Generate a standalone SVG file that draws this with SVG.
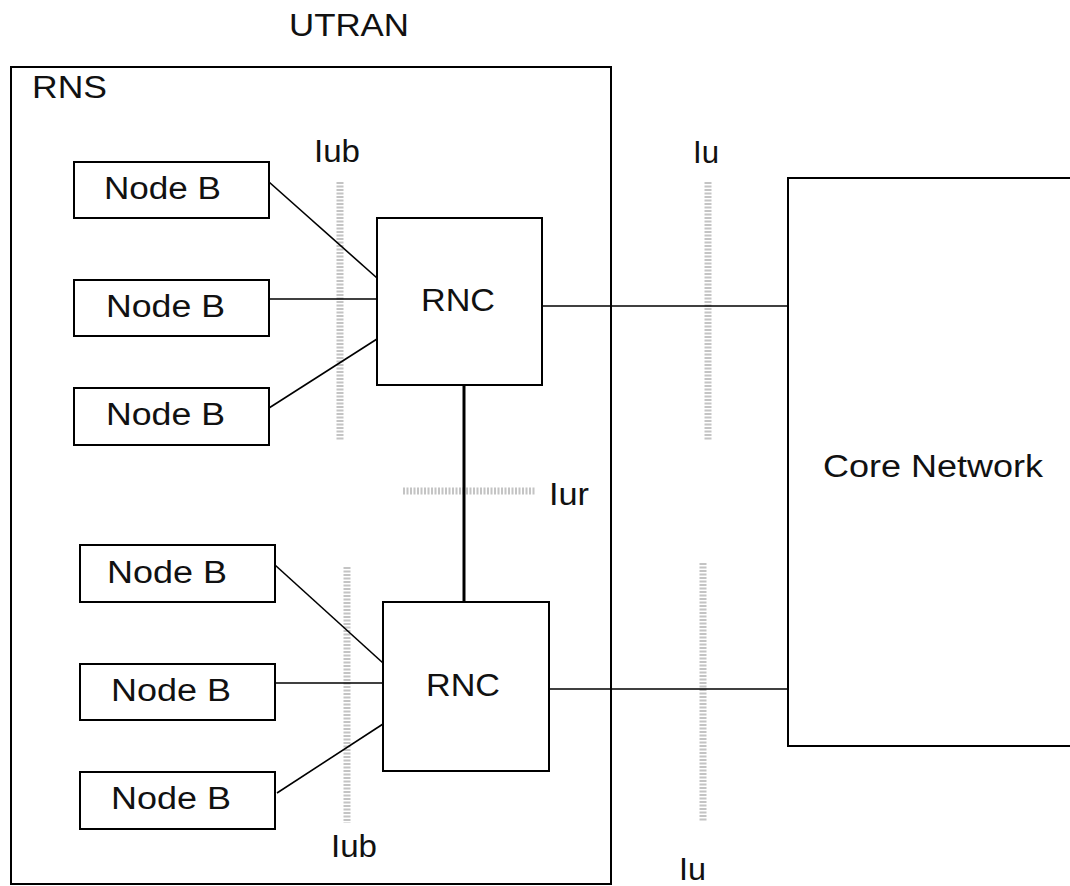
<svg xmlns="http://www.w3.org/2000/svg" width="1070" height="886" viewBox="0 0 1070 886">
<style>
.box{fill:#fff;stroke:#000;stroke-width:2}
.t{font-family:"Liberation Sans",Arial,sans-serif;font-size:31px;fill:#111}
.ln{stroke:#000;stroke-width:1.6;fill:none}
.bar{stroke:#c4c4c4;stroke-width:7;stroke-dasharray:2 1.5;fill:none}
</style>
<rect width="1070" height="886" fill="#fff"/>
<text class="t" x="289" y="36" textLength="120" lengthAdjust="spacingAndGlyphs">UTRAN</text>
<g id="rns">
<rect class="box" x="11" y="67" width="600" height="817"/>
<text class="t" x="32" y="98" textLength="75" lengthAdjust="spacingAndGlyphs">RNS</text>
</g>
<g id="core">
<rect class="box" x="788" y="178" width="300" height="568"/>
<text class="t" x="823" y="477" textLength="220" lengthAdjust="spacingAndGlyphs">Core Network</text>
</g>
<g id="interfaces">
<line class="bar" x1="340" y1="182" x2="340" y2="440"/>
<line class="bar" x1="347" y1="567" x2="347" y2="823"/>
<line class="bar" x1="708" y1="182" x2="708" y2="440"/>
<line class="bar" x1="703" y1="563" x2="703" y2="822"/>
<line class="bar" x1="403" y1="491" x2="535" y2="491"/>
<text class="t" x="314" y="162" textLength="46" lengthAdjust="spacingAndGlyphs">Iub</text>
<text class="t" x="331" y="857" textLength="46" lengthAdjust="spacingAndGlyphs">Iub</text>
<text class="t" x="693" y="163" textLength="26" lengthAdjust="spacingAndGlyphs">Iu</text>
<text class="t" x="679" y="880" textLength="27" lengthAdjust="spacingAndGlyphs">Iu</text>
<text class="t" x="549" y="505" textLength="40" lengthAdjust="spacingAndGlyphs">Iur</text>
</g>
<g id="connectors">
<line class="ln" x1="269" y1="182" x2="377" y2="278"/>
<line class="ln" x1="269" y1="299" x2="377" y2="299"/>
<line class="ln" x1="269" y1="408" x2="377" y2="339"/>
<line class="ln" x1="538" y1="306" x2="788" y2="306"/>
<line class="ln" x1="275" y1="565" x2="383" y2="663"/>
<line class="ln" x1="275" y1="683" x2="383" y2="683"/>
<line class="ln" x1="277" y1="793" x2="383" y2="724"/>
<line class="ln" x1="538" y1="689" x2="788" y2="689"/>
<line stroke="#000" stroke-width="3" x1="464" y1="385" x2="464" y2="602"/>
</g>
<g id="nodeb1"><rect class="box" x="74" y="162" width="195" height="56"/><text class="t" x="104" y="199" textLength="117" lengthAdjust="spacingAndGlyphs">Node B</text></g>
<g id="nodeb2"><rect class="box" x="74" y="280" width="195" height="56"/><text class="t" x="106" y="317" textLength="119" lengthAdjust="spacingAndGlyphs">Node B</text></g>
<g id="nodeb3"><rect class="box" x="74" y="388" width="195" height="57"/><text class="t" x="106" y="425" textLength="119" lengthAdjust="spacingAndGlyphs">Node B</text></g>
<g id="rnc1"><rect class="box" x="377" y="218" width="165" height="167"/><text class="t" x="421" y="311" textLength="74" lengthAdjust="spacingAndGlyphs">RNC</text></g>
<g id="nodeb4"><rect class="box" x="80" y="545" width="195" height="57"/><text class="t" x="107" y="583" textLength="120" lengthAdjust="spacingAndGlyphs">Node B</text></g>
<g id="nodeb5"><rect class="box" x="80" y="664" width="195" height="56"/><text class="t" x="111" y="701" textLength="120" lengthAdjust="spacingAndGlyphs">Node B</text></g>
<g id="nodeb6"><rect class="box" x="80" y="772" width="195" height="57"/><text class="t" x="111" y="809" textLength="120" lengthAdjust="spacingAndGlyphs">Node B</text></g>
<g id="rnc2"><rect class="box" x="383" y="602" width="166" height="169"/><text class="t" x="426" y="696" textLength="74" lengthAdjust="spacingAndGlyphs">RNC</text></g>
</svg>
